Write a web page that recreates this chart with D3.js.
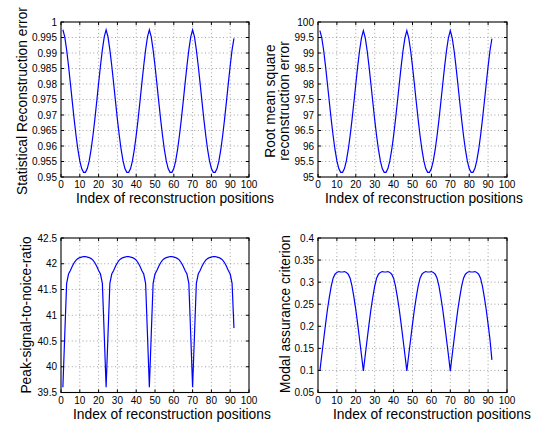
<!DOCTYPE html>
<html>
<head>
<meta charset="utf-8">
<script src="https://cdn.jsdelivr.net/npm/d3@7"></script>
<style>
  body { margin: 0; background: #fff; }
  svg { display: block; }
  text { font-family: "Liberation Sans", Arial, sans-serif; fill: #000; }
</style>
</head>
<body>
<svg id="fig" width="537" height="423"></svg>
<script>
// reconstruction position index 1..92
const positions = d3.range(1, 93);

const statError = [
  0.9975, 0.9952, 0.9910, 0.9859, 0.9802, 0.9743, 0.9686, 0.9634, 0.9588, 0.9552, 0.9527, 0.9515,
  0.9515, 0.9527, 0.9552, 0.9588, 0.9634, 0.9686, 0.9743, 0.9802, 0.9859, 0.9910, 0.9952,
  0.9975, 0.9952, 0.9910, 0.9859, 0.9802, 0.9743, 0.9686, 0.9634, 0.9588, 0.9552, 0.9527, 0.9515,
  0.9515, 0.9527, 0.9552, 0.9588, 0.9634, 0.9686, 0.9743, 0.9802, 0.9859, 0.9910, 0.9952,
  0.9975, 0.9952, 0.9910, 0.9859, 0.9802, 0.9743, 0.9686, 0.9634, 0.9588, 0.9552, 0.9527, 0.9515,
  0.9515, 0.9527, 0.9552, 0.9588, 0.9634, 0.9686, 0.9743, 0.9802, 0.9859, 0.9910, 0.9952,
  0.9975, 0.9952, 0.9910, 0.9859, 0.9802, 0.9743, 0.9686, 0.9634, 0.9588, 0.9552, 0.9527, 0.9515,
  0.9515, 0.9527, 0.9552, 0.9588, 0.9634, 0.9686, 0.9743, 0.9802, 0.9859, 0.9910, 0.9947
];

const rmsError = [
  99.72, 99.49, 99.08, 98.57, 98.00, 97.42, 96.85, 96.33, 95.88, 95.52, 95.27, 95.15,
  95.15, 95.27, 95.52, 95.88, 96.33, 96.85, 97.42, 98.00, 98.57, 99.08, 99.49,
  99.72, 99.49, 99.08, 98.57, 98.00, 97.42, 96.85, 96.33, 95.88, 95.52, 95.27, 95.15,
  95.15, 95.27, 95.52, 95.88, 96.33, 96.85, 97.42, 98.00, 98.57, 99.08, 99.49,
  99.72, 99.49, 99.08, 98.57, 98.00, 97.42, 96.85, 96.33, 95.88, 95.52, 95.27, 95.15,
  95.15, 95.27, 95.52, 95.88, 96.33, 96.85, 97.42, 98.00, 98.57, 99.08, 99.49,
  99.72, 99.49, 99.08, 98.57, 98.00, 97.42, 96.85, 96.33, 95.88, 95.52, 95.27, 95.15,
  95.15, 95.27, 95.52, 95.88, 96.33, 96.85, 97.42, 98.00, 98.57, 99.08, 99.46
];

const psnr = [
  39.60, 40.62, 41.62, 41.80, 41.87, 41.95, 42.02, 42.07, 42.10, 42.12, 42.13, 42.14,
  42.14, 42.13, 42.12, 42.10, 42.07, 42.02, 41.95, 41.87, 41.80, 41.62, 40.62,
  39.60, 40.62, 41.62, 41.80, 41.87, 41.95, 42.02, 42.07, 42.10, 42.12, 42.13, 42.14,
  42.14, 42.13, 42.12, 42.10, 42.07, 42.02, 41.95, 41.87, 41.80, 41.62, 40.62,
  39.60, 40.62, 41.62, 41.80, 41.87, 41.95, 42.02, 42.07, 42.10, 42.12, 42.13, 42.14,
  42.14, 42.13, 42.12, 42.10, 42.07, 42.02, 41.95, 41.87, 41.80, 41.62, 40.62,
  39.60, 40.62, 41.62, 41.80, 41.87, 41.95, 42.02, 42.07, 42.10, 42.12, 42.13, 42.14,
  42.14, 42.13, 42.12, 42.10, 42.07, 42.02, 41.95, 41.87, 41.80, 41.62, 40.75
];

const mac = [
  0.099, 0.135, 0.170, 0.205, 0.238, 0.266, 0.291, 0.309, 0.318, 0.322, 0.324, 0.323,
  0.323, 0.324, 0.322, 0.318, 0.309, 0.291, 0.266, 0.238, 0.205, 0.170, 0.135,
  0.099, 0.135, 0.170, 0.205, 0.238, 0.266, 0.291, 0.309, 0.318, 0.322, 0.324, 0.323,
  0.323, 0.324, 0.322, 0.318, 0.309, 0.291, 0.266, 0.238, 0.205, 0.170, 0.135,
  0.099, 0.135, 0.170, 0.205, 0.238, 0.266, 0.291, 0.309, 0.318, 0.322, 0.324, 0.323,
  0.323, 0.324, 0.322, 0.318, 0.309, 0.291, 0.266, 0.238, 0.205, 0.170, 0.135,
  0.099, 0.135, 0.170, 0.205, 0.238, 0.266, 0.291, 0.309, 0.318, 0.322, 0.324, 0.323,
  0.323, 0.324, 0.322, 0.318, 0.309, 0.291, 0.266, 0.238, 0.205, 0.170, 0.124
];

const xTicks = [0, 10, 20, 30, 40, 50, 60, 70, 80, 90, 100];
const statTicks = [0.95, 0.955, 0.96, 0.965, 0.97, 0.975, 0.98, 0.985, 0.99, 0.995, 1];
const rmsTicks = [95, 95.5, 96, 96.5, 97, 97.5, 98, 98.5, 99, 99.5, 100];
const psnrTicks = [39.5, 40, 40.5, 41, 41.5, 42, 42.5];
const macTicks = [0.05, 0.1, 0.15, 0.2, 0.25, 0.3, 0.35, 0.4];

const xLabel = "Index of reconstruction positions";

const panels = [
  { values: statError, ticks: statTicks, box: [61, 249, 22, 177],
    ylabel: ["Statistical Reconstruction error"], ylx: [27], yly: 101, xlx: 76, xly: 203 },
  { values: rmsError, ticks: rmsTicks, box: [318, 507, 22, 177],
    ylabel: ["Root mean square", "reconstruction error"], ylx: [274.5, 288.5], yly: 101, xlx: 325, xly: 203 },
  { values: psnr, ticks: psnrTicks, box: [61, 249, 238, 392.5],
    ylabel: ["Peak-signal-to-noice-ratio"], ylx: [31], yly: 315, xlx: 73, xly: 418.5 },
  { values: mac, ticks: macTicks, box: [318, 507, 238, 392.5],
    ylabel: ["Modal assurance criterion"], ylx: [290], yly: 314, xlx: 333, xly: 418.5 }
];

const svg = d3.select("#fig");
const fmt = d3.format("~g");

panels.forEach(p => {
  const [x0, x1, y0, y1] = p.box;
  const x = d3.scaleLinear().domain([0, 100]).range([x0, x1]);
  const y = d3.scaleLinear().domain(d3.extent(p.ticks)).range([y1, y0]);
  const g = svg.append("g");

  // dotted grid
  g.selectAll(".gx")
    .data(xTicks.slice(1, -1))
    .join("line")
    .attr("x1", d => x(d)).attr("x2", d => x(d))
    .attr("y1", y0).attr("y2", y1)
    .attr("stroke", "#8a8a8a")
    .attr("stroke-width", 0.8)
    .attr("stroke-dasharray", "1,2.6");
  g.selectAll(".gy")
    .data(p.ticks.slice(1, -1))
    .join("line")
    .attr("x1", x0).attr("x2", x1)
    .attr("y1", d => y(d)).attr("y2", d => y(d))
    .attr("stroke", "#8a8a8a")
    .attr("stroke-width", 0.8)
    .attr("stroke-dasharray", "1,2.6");

  // curve
  const line = d3.line()
    .x((d, i) => x(positions[i]))
    .y(d => y(d));
  g.append("path")
    .datum(p.values)
    .attr("d", line)
    .attr("fill", "none")
    .attr("stroke", "#0000ff")
    .attr("stroke-width", 1.2);

  // inward ticks on all four sides
  const tl = 3;
  xTicks.forEach(t => {
    g.append("line").attr("x1", x(t)).attr("x2", x(t)).attr("y1", y1).attr("y2", y1 - tl).attr("stroke", "#000");
    g.append("line").attr("x1", x(t)).attr("x2", x(t)).attr("y1", y0).attr("y2", y0 + tl).attr("stroke", "#000");
  });
  p.ticks.forEach(t => {
    g.append("line").attr("x1", x0).attr("x2", x0 + tl).attr("y1", y(t)).attr("y2", y(t)).attr("stroke", "#000");
    g.append("line").attr("x1", x1).attr("x2", x1 - tl).attr("y1", y(t)).attr("y2", y(t)).attr("stroke", "#000");
  });

  // box
  g.append("rect")
    .attr("x", x0).attr("y", y0)
    .attr("width", x1 - x0).attr("height", y1 - y0)
    .attr("fill", "none")
    .attr("stroke", "#000")
    .attr("stroke-width", 1.1);

  // tick labels
  g.selectAll(".xt")
    .data(xTicks)
    .join("text")
    .attr("x", d => x(d))
    .attr("y", y1 + 11)
    .attr("text-anchor", "middle")
    .style("font-size", "10px")
    .text(d => fmt(d));
  g.selectAll(".yt")
    .data(p.ticks)
    .join("text")
    .attr("x", x0 - 4)
    .attr("y", d => y(d) + 3.6)
    .attr("text-anchor", "end")
    .style("font-size", "10px")
    .text(d => fmt(d));

  // axis labels
  g.append("text")
    .attr("x", p.xlx)
    .attr("y", p.xly)
    .style("font-size", "13.8px")
    .text(xLabel);
  p.ylabel.forEach((lab, i) => {
    g.append("text")
      .attr("transform", `translate(${p.ylx[i]},${p.yly}) rotate(-90)`)
      .attr("text-anchor", "middle")
      .style("font-size", "13.8px")
      .text(lab);
  });
});
</script>
</body>
</html>
